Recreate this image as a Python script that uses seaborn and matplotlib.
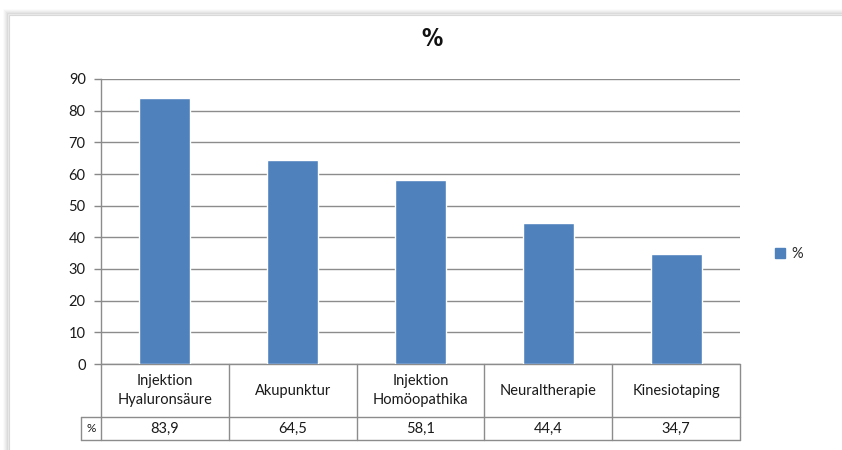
import matplotlib
matplotlib.use("Agg")
import matplotlib.pyplot as plt
import matplotlib.patches as mpatches
import matplotlib.transforms as mtransforms
import seaborn as sns
import pandas as pd

# Data
categories = ["Injektion\nHyaluronsäure", "Akupunktur", "Injektion\nHomöopathika",
              "Neuraltherapie", "Kinesiotaping"]
values = [83.9, 64.5, 58.1, 44.4, 34.7]
value_labels = ["83,9", "64,5", "58,1", "44,4", "34,7"]
series_name = "%"
y_ticks = [0, 10, 20, 30, 40, 50, 60, 70, 80, 90]

sns.set_style("white")
plt.rcParams["font.family"] = ["Lato", "DejaVu Sans"]

W, H = 842, 450
fig = plt.figure(figsize=(W / 100, H / 100), dpi=100)
fig.patch.set_facecolor("white")

# chart frame with a soft shadow, kept behind the axes
for i, a in enumerate([0.10, 0.07, 0.05, 0.03, 0.02]):
    fig.add_artist(mpatches.Rectangle(((8 - i) / W, -0.1), 1.2, (H - 14 + i) / H + 0.1,
                                      transform=fig.transFigure, fill=False,
                                      edgecolor="black", alpha=a, lw=1.2, zorder=-5))
fig.add_artist(mpatches.Rectangle((9 / W, -0.1), 1.2, (H - 15) / H + 0.1,
                                  transform=fig.transFigure, facecolor="white",
                                  edgecolor="#d9d9d9", lw=0.8, zorder=-4))

left, right, top, bottom = 101, 740, 79, 364
ax = fig.add_axes([left / W, 1 - bottom / H, (right - left) / W, (bottom - top) / H])
ax.set_zorder(1)
ax.patch.set_alpha(0)

df = pd.DataFrame({"cat": categories, "val": values})
sns.barplot(data=df, x="cat", y="val", color="#4F81BD", width=0.4, saturation=1,
            ax=ax, zorder=3)

ax.set_xlim(-0.5, 4.5)
ax.set_ylim(0, 90)
ax.set_yticks(y_ticks)
ax.set_yticklabels([str(t) for t in y_ticks], fontsize=10.5, color="#1a1a1a")
ax.tick_params(axis="y", length=5, width=1, color="#888888", pad=6, left=True)
ax.set_xticks([])
ax.set_xlabel("")
ax.set_ylabel("")
ax.yaxis.grid(True, color="#8c8c8c", lw=1, zorder=0)
ax.set_axisbelow(True)
for s in ["top", "right", "bottom"]:
    ax.spines[s].set_visible(False)
ax.spines["left"].set_color("#8c8c8c")
ax.spines["left"].set_linewidth(1)

# chart title
fig.text(432 / W, 1 - 39 / H, series_name, ha="center", va="center",
         fontsize=17, fontweight="bold", fontstretch="condensed", color="#111111",
         family=["Liberation Sans Narrow", "DejaVu Sans"])

# data table below the axis
trans = mtransforms.blended_transform_factory(ax.transData, ax.transAxes)
row1 = -(417 - 364) / (bottom - top)
row2 = -(440 - 364) / (bottom - top)
hdr = -0.5 - 20 / ((right - left) / 5)
lc = "#8c8c8c"
n = len(categories)
line_kw = dict(transform=trans, color=lc, lw=1, clip_on=False)
ax.plot([-0.5, n - 0.5], [0, 0], **line_kw)
ax.plot([hdr, n - 0.5], [row1, row1], **line_kw)
ax.plot([hdr, n - 0.5], [row2, row2], **line_kw)
ax.plot([hdr, hdr], [row1, row2], **line_kw)
for i in range(n + 1):
    ax.plot([i - 0.5, i - 0.5], [0, row2], **line_kw)
for i, (c, v) in enumerate(zip(categories, value_labels)):
    ax.text(i, row1 / 2, c, transform=trans, ha="center", va="center",
            fontsize=10.5, color="#1a1a1a", linespacing=1.45)
    ax.text(i, (row1 + row2) / 2, v, transform=trans, ha="center", va="center",
            fontsize=10.5, color="#1a1a1a")
ax.text((hdr - 0.5) / 2, (row1 + row2) / 2, series_name, transform=trans,
        ha="center", va="center", fontsize=8.5, color="#1a1a1a")

# legend
handle = mpatches.Patch(color="#4F81BD", label=series_name)
fig.legend(handles=[handle], loc="center left",
           bbox_to_anchor=(762 / W, 1 - 254 / H), frameon=False, fontsize=10.5,
           handlelength=0.7, handleheight=0.7, handletextpad=0.4)

fig.savefig("out.png", dpi=100, facecolor="white")
